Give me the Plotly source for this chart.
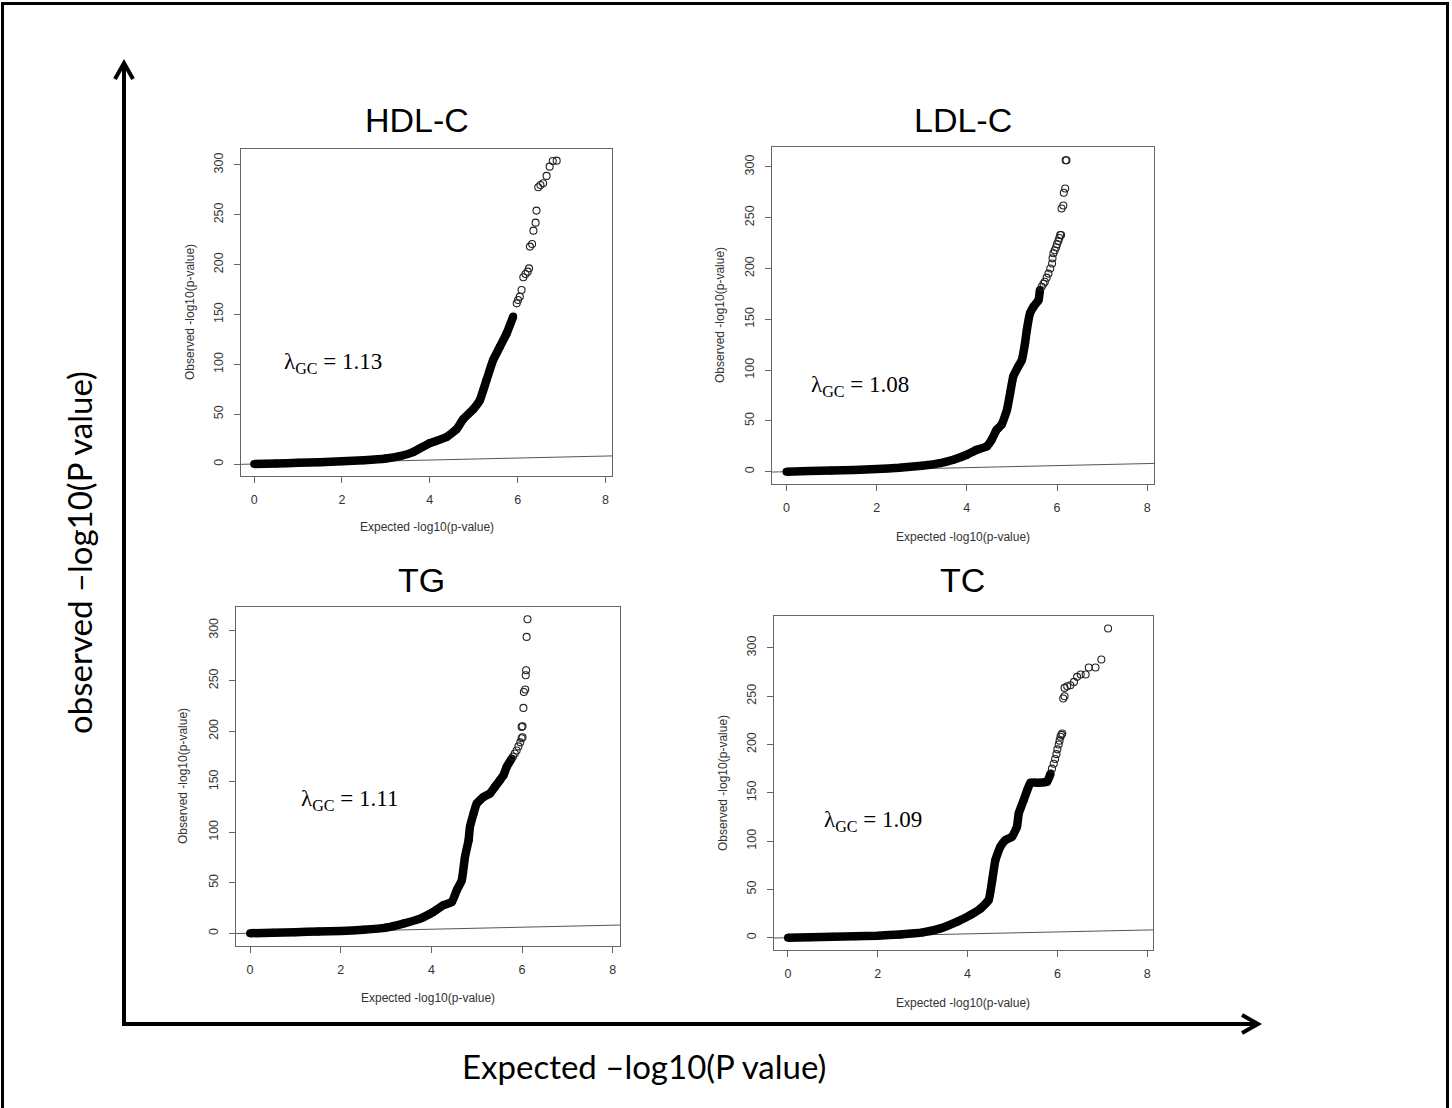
import plotly.graph_objects as go

W, H = 1452, 1108

# ---------------- data ----------------
panel_titles = ["HDL-C", "LDL-C", "TG", "TC"]
lambda_values = ["1.13", "1.08", "1.11", "1.09"]
x_ticks = [0, 2, 4, 6, 8]
y_ticks = [0, 50, 100, 150, 200, 250, 300]
ref_line = [-1, 9]

hdl_dense_x = [0.0, 0.5, 1.0, 1.5, 2.0, 2.5, 3.0, 3.32, 3.62, 4.0, 4.38, 4.61, 4.76, 4.99,
               5.14, 5.29, 5.44, 5.6, 5.75, 5.9]
hdl_dense_y = [0.0, 0.6, 1.2, 1.9, 2.8, 3.8, 5.6, 8, 12, 21, 27, 35, 45, 55,
               64, 84, 104, 118, 131, 148]
hdl_sparse_x = [5.98, 6.01, 6.05, 6.09, 6.13, 6.18, 6.23, 6.26, 6.28, 6.33, 6.36, 6.41, 6.43,
                6.47, 6.52, 6.58, 6.66, 6.73, 6.8, 6.89]
hdl_sparse_y = [161.2, 164.5, 167.9, 174.6, 187.3, 190.6, 193, 196.3, 218.1, 220.7, 234.1, 242.1,
                254.2, 277.6, 279.9, 281.6, 289, 298.3, 304, 304.3]

ldl_dense_x = [0.0, 0.5, 1.0, 1.5, 2.0, 2.5, 3.0, 3.41, 3.7, 4.0, 4.22, 4.44, 4.55, 4.66, 4.77,
               4.89, 4.96, 5.03, 5.14, 5.22, 5.29, 5.33, 5.4, 5.48, 5.59, 5.62]
ldl_dense_y = [0.0, 0.6, 1.2, 1.8, 2.6, 3.8, 5.9, 8.5, 11.8, 16.7, 21.6, 24.9, 31.4, 41.3, 46.2,
               60.9, 77.3, 93.7, 103.5, 110, 126.4, 139.5, 155.9, 162.5, 169, 178.8]
ldl_sparse_x = [5.66, 5.7, 5.73, 5.77, 5.81, 5.85, 5.89, 5.9, 5.92, 5.95, 5.98, 6.0, 6.03, 6.05,
                6.07, 6.09, 6.1, 6.14, 6.15, 6.18, 6.19, 6.21]
ldl_sparse_y = [182, 185, 187, 191, 195, 200, 205, 210, 215, 218, 221, 224, 227, 230,
                233, 233, 259, 262, 274.5, 278.7, 306.6, 306.6]

tg_dense_x = [0.0, 0.5, 1.0, 1.5, 2.0, 2.5, 3.0, 3.38, 3.75, 4.04, 4.26, 4.45, 4.56, 4.67, 4.74,
              4.82, 4.85, 4.93, 5.0, 5.15, 5.29, 5.4, 5.51, 5.59, 5.66, 5.77]
tg_dense_y = [0.0, 0.6, 1.1, 1.7, 2.3, 3.5, 5.6, 9.6, 14.5, 21.1, 27.7, 31, 42.6, 52.5, 75.6,
              92, 105.3, 118.5, 128.4, 135, 138.3, 144.9, 151.5, 156.4, 164.7, 172.9]
tg_sparse_x = [5.8, 5.84, 5.88, 5.92, 5.96, 5.99, 6.01, 5.99, 6.01, 6.03, 6.04, 6.07, 6.08, 6.09,
               6.1, 6.12]
tg_sparse_y = [175, 178, 181, 185, 189, 193, 194, 204.3, 205, 223.1, 238.9, 241.3, 255.4, 260.4,
               293.4, 310.9]

tc_dense_x = [0.0, 0.5, 1.0, 1.5, 2.0, 2.5, 3.0, 3.4, 3.77, 4.06, 4.29, 4.47, 4.55, 4.62, 4.73,
              4.84, 4.99, 5.1, 5.14, 5.25, 5.33, 5.4, 5.6, 5.77, 5.85]
tc_dense_y = [0.0, 0.5, 1.0, 1.5, 2.1, 3.4, 5.5, 9.7, 16.6, 23.4, 30.3, 39, 59.7, 80.3, 94.1,
              101, 104.5, 114.8, 128.6, 142.4, 152.8, 160.3, 160.5, 161.4, 170]
tc_sparse_x = [5.88, 5.92, 5.95, 5.98, 6.0, 6.03, 6.05, 6.07, 6.09, 6.11, 6.13, 6.16, 6.16, 6.22,
               6.29, 6.37, 6.44, 6.52, 6.63, 6.7, 6.85, 6.98, 7.13]
tc_sparse_y = [175, 180, 185, 190, 195, 200, 204, 208, 210, 211.4, 247.6, 250, 258.6, 260.3,
               261.4, 264.8, 270, 272.4, 272.4, 279.7, 279.7, 287.9, 320]

dense_x = [hdl_dense_x, ldl_dense_x, tg_dense_x, tc_dense_x]
dense_y = [hdl_dense_y, ldl_dense_y, tg_dense_y, tc_dense_y]
sparse_x = [hdl_sparse_x, ldl_sparse_x, tg_sparse_x, tc_sparse_x]
sparse_y = [hdl_sparse_y, ldl_sparse_y, tg_sparse_y, tc_sparse_y]

# ---------------- layout geometry (pixels) ----------------
boxes = [  # left, right, top, bottom
    (241, 612, 149, 476),
    (772, 1154, 147, 484),
    (236, 620, 607, 946),
    (774, 1153, 616, 950),
]
x_ranges = [[-0.30, 8.15], [-0.32, 8.15], [-0.31, 8.16], [-0.31, 8.13]]
y_ranges = [[-12.0, 316.0], [-12.1, 319.6], [-12.6, 323.0], [-12.7, 333.0]]
title_pos = [(417, 120), (963, 120), (421, 580), (962, 580)]
ytitle_pos = [(190, 312), (720, 315), (183, 776), (723, 783)]
xtitle_pos = [(427, 527), (963, 537), (428, 998), (963, 1003)]
lambda_pos = [(0.63, 101), (0.51, 84), (1.08, 132), (0.76, 121)]


def px(x):
    return x / W


def py(y):
    return 1 - y / H


fig = go.Figure()
layout = dict(
    width=W, height=H,
    margin=dict(l=0, r=0, t=0, b=0),
    paper_bgcolor="white", plot_bgcolor="white",
    showlegend=False,
)
annotations = []
shapes = []

for i in range(4):
    n = "" if i == 0 else str(i + 1)
    xa, ya = "x" + n, "y" + n
    l, r, t, b = boxes[i]
    layout["xaxis" + n] = dict(
        domain=[px(l), px(r)], anchor=ya, range=x_ranges[i],
        tickvals=x_ticks, ticks="outside", ticklen=6, tickcolor="#666",
        showline=True, mirror=True, linecolor="#666", linewidth=1,
        showgrid=False, zeroline=False, ticklabelstandoff=6,
        tickfont=dict(family="Liberation Sans", size=12.5, color="#333"),
    )
    layout["yaxis" + n] = dict(
        domain=[py(b), py(t)], anchor=xa, range=y_ranges[i],
        tickvals=y_ticks, ticks="outside", ticklen=6, tickcolor="#666",
        showline=True, mirror=True, linecolor="#666", linewidth=1,
        showgrid=False, zeroline=False, tickangle=-90, ticklabelstandoff=6,
        tickfont=dict(family="Liberation Sans", size=12.5, color="#333"),
    )
    # reference line y = x
    fig.add_trace(go.Scatter(x=ref_line, y=ref_line, mode="lines",
                             line=dict(color="#555", width=1), xaxis=xa, yaxis=ya,
                             hoverinfo="skip"))
    # dense part of the Q-Q curve
    fig.add_trace(go.Scatter(x=dense_x[i], y=dense_y[i], mode="lines+markers",
                             line=dict(color="black", width=8.5, shape="spline", smoothing=0.4),
                             marker=dict(symbol="circle", size=8, color="black"),
                             xaxis=xa, yaxis=ya))
    # sparse tail points
    fig.add_trace(go.Scatter(x=sparse_x[i], y=sparse_y[i], mode="markers",
                             marker=dict(symbol="circle-open", size=7, color="#222",
                                         line=dict(width=1.1, color="#222")),
                             xaxis=xa, yaxis=ya))
    tx, ty = title_pos[i]
    annotations.append(dict(text=panel_titles[i], x=px(tx), y=py(ty), xref="paper", yref="paper",
                            showarrow=False, xanchor="center", yanchor="middle",
                            font=dict(family="Liberation Sans", size=34, color="black")))
    yx, yy = ytitle_pos[i]
    annotations.append(dict(text="Observed -log10(p-value)", x=px(yx), y=py(yy), xref="paper",
                            yref="paper", showarrow=False, textangle=-90,
                            xanchor="center", yanchor="middle",
                            font=dict(family="Liberation Sans", size=12, color="#333")))
    xx, xy = xtitle_pos[i]
    annotations.append(dict(text="Expected -log10(p-value)", x=px(xx), y=py(xy), xref="paper",
                            yref="paper", showarrow=False, xanchor="center", yanchor="middle",
                            font=dict(family="Liberation Sans", size=12, color="#333")))
    lx, ly = lambda_pos[i]
    annotations.append(dict(text="λ<sub>GC</sub> = " + lambda_values[i], x=lx, y=ly,
                            xref=xa, yref=ya, showarrow=False, xanchor="left", yanchor="middle",
                            font=dict(family="Liberation Serif", size=23, color="black")))

# big overall axis labels
annotations.append(dict(text="observed \u2013log10(P value)", x=px(79), y=py(553), xref="paper",
                        yref="paper", showarrow=False, textangle=-90, xanchor="center",
                        yanchor="middle", font=dict(family="Lato", size=33, color="black")))
annotations.append(dict(text="Expected \u2013log10(P value)", x=px(644), y=py(1066), xref="paper",
                        yref="paper", showarrow=False, xanchor="center", yanchor="middle",
                        font=dict(family="Lato", size=33, color="black")))

# outer frame
shapes.append(dict(type="rect", xref="paper", yref="paper", x0=px(2.5), x1=px(1447.5),
                   y0=py(1112), y1=py(3.5), line=dict(color="black", width=3)))
# big arrows
shapes.append(dict(type="line", xref="paper", yref="paper", x0=px(124), x1=px(124),
                   y0=py(1026), y1=py(64), line=dict(color="black", width=4)))
shapes.append(dict(type="path", xref="paper", yref="paper",
                   path=f"M {px(115)} {py(79)} L {px(124)} {py(63)} L {px(133)} {py(79)}",
                   line=dict(color="black", width=4)))
shapes.append(dict(type="line", xref="paper", yref="paper", x0=px(122), x1=px(1256),
                   y0=py(1024), y1=py(1024), line=dict(color="black", width=4)))
shapes.append(dict(type="path", xref="paper", yref="paper",
                   path=f"M {px(1242)} {py(1015)} L {px(1258)} {py(1024)} L {px(1242)} {py(1033)}",
                   line=dict(color="black", width=4)))

layout["annotations"] = annotations
layout["shapes"] = shapes
fig.update_layout(**layout)
fig.write_html("out.html")
